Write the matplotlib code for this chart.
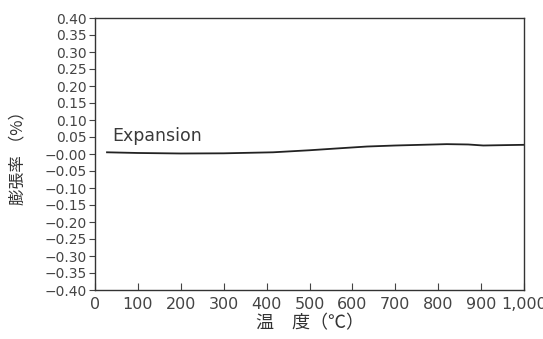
import numpy as np
import matplotlib.pyplot as plt
from matplotlib.ticker import FuncFormatter

plt.rcParams['font.family'] = ['Noto Sans CJK JP', 'DejaVu Sans']

# expansion curve
temp = [28, 100, 200, 300, 415, 500, 560, 634, 700, 820, 870, 905, 950, 1000]
expansion = [0.005, 0.003, 0.0015, 0.002, 0.005, 0.011, 0.016, 0.022, 0.025, 0.029, 0.028, 0.025, 0.026, 0.027]

x_ticks = [0, 100, 200, 300, 400, 500, 600, 700, 800, 900, 1000]
x_labels = ['0', '100', '200', '300', '400', '500', '600', '700', '800', '900', '1,000']
y_ticks = np.round(np.arange(-0.40, 0.401, 0.05), 2)

fig = plt.figure(figsize=(5.43, 3.39), dpi=100)
ax = fig.add_axes([95/543, 1-290/339, 429/543, 272/339])

ax.plot(temp, expansion, color='#222222', lw=1.3)
ax.text(40, 0.038, 'Expansion', fontsize=12.5, color='#3a3a3a',
        family='DejaVu Sans', va='baseline')

ax.set_xlim(0, 1000)
ax.set_ylim(-0.40, 0.40)
ax.set_xticks(x_ticks)
ax.set_xticklabels(x_labels)
ax.set_yticks(y_ticks)
ax.yaxis.set_major_formatter(FuncFormatter(lambda v, p: f'{v:.2f}'.replace('-', '\u2212')))

ax.tick_params(axis='y', direction='out', length=4, labelsize=10, colors='#444444', pad=2)
ax.tick_params(axis='x', direction='in', length=5, labelsize=11.5, colors='#444444', pad=5)
for lab in ax.get_yticklabels() + ax.get_xticklabels():
    lab.set_family('DejaVu Sans')
for s in ax.spines.values():
    s.set_color('#333333')
    s.set_linewidth(1.0)

ax.set_ylabel('膨張率 （%）', fontsize=12, color='#333333', labelpad=13)
ax.set_xlabel('温　度（℃）', fontsize=13, color='#333333', labelpad=2)

fig.savefig('out.png', dpi=100)
